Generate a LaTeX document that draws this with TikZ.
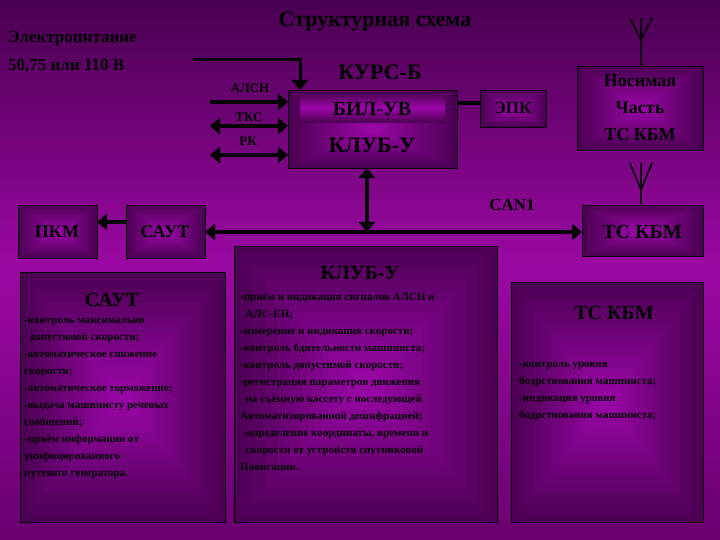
\documentclass[tikz,border=0pt]{standalone}
\usepackage{fontspec}
\setmainfont{Liberation Serif}
\usetikzlibrary{arrows.meta}
\colorlet{ink}{black}
\definecolor{bgtop}{HTML}{4A0052}
\definecolor{bgmid}{HTML}{9A08A2}
\definecolor{bgbot}{HTML}{6A0070}
\definecolor{boxin}{HTML}{9A06A6}
\definecolor{boxout}{HTML}{4C0054}
\newcommand{\gbox}[4]{% x1 y1 x2 y2
  \foreach \k in {0,...,19}{
    \pgfmathsetmacro{\p}{\k*5}
    \pgfmathsetmacro{\fx}{(#3-#1)/2*\k/21}
    \pgfmathsetmacro{\fy}{(#4-#2)/2*\k/21}
    \fill[boxin!\p!boxout] (#1+\fx,-#2-\fy) rectangle (#3-\fx,-#4+\fy);
  }
  \draw[black,line width=0.8pt] (#1,-#2) rectangle (#3,-#4);
}
\begin{document}
\begin{tikzpicture}[x=1pt,y=1pt,
  lbl/.style={text=black,inner sep=0pt},
  body/.style={lbl,font=\bfseries\fontsize{11}{17}\selectfont,align=left,anchor=north west},
  wire/.style={draw=black,line width=4pt},
  tip/.style={-{Triangle[length=10pt,width=16pt]}},
  dtip/.style={{Triangle[length=10pt,width=16pt]}-{Triangle[length=10pt,width=16pt]}}]
\useasboundingbox (0,0) rectangle (720,-540);
\foreach \k in {0,...,26}{
  \pgfmathsetmacro{\p}{\k*100/26}
  \fill[bgmid!\p!bgtop] (0,-\k*10) rectangle (720,-\k*10-10.5);
  \fill[bgmid!\p!bgbot] (0,-540+\k*10) rectangle (720,-530+\k*10+0.5);
}
\gbox{288}{90}{457}{168}
\foreach \k in {0,...,14}{
  \pgfmathsetmacro{\p}{\k*100/14}
  \fill[boxin!\p!boxout] (300,-93-\k) rectangle (445,-94.2-\k);
  \fill[boxin!\p!boxout] (300,-123+\k) rectangle (445,-121.8+\k);
}
\gbox{480}{90}{546}{127}
\gbox{577}{66}{703}{150}
\gbox{582}{205}{703}{256}
\gbox{18}{205}{97}{258}
\gbox{126}{205}{205}{258}
\gbox{20}{272}{225}{522}
\gbox{234}{246}{497}{522}
\gbox{511}{282}{703}{522}
% texts
\node[lbl,font=\bfseries\fontsize{22}{24}\selectfont] (title) at (375,-22) {Структурная схема};
\node[lbl,font=\bfseries\fontsize{17}{28}\selectfont,align=left,anchor=north west] (pow) at (8,-31) {Электропитание\\50,75 или 110 В};
\node[lbl,font=\bfseries\fontsize{22}{24}\selectfont] (kurs) at (380,-72) {КУРС-Б};
\node[lbl,font=\bfseries\fontsize{20}{22}\selectfont] (biluv) at (372,-109) {БИЛ-УВ};
\node[lbl,font=\bfseries\fontsize{22}{24}\selectfont] (klubu) at (372,-145) {КЛУБ-У};
\node[lbl,font=\bfseries\fontsize{17}{19}\selectfont] (epk) at (513,-108) {ЭПК};
\node[lbl,font=\bfseries\fontsize{18}{27}\selectfont,align=center] (nos) at (640,-108) {Носимая\\Часть\\ТС КБМ};
\node[lbl,font=\bfseries\fontsize{20}{22}\selectfont] (tskbm) at (642,-232) {ТС КБМ};
\node[lbl,font=\bfseries\fontsize{18}{20}\selectfont] (pkm) at (57,-232) {ПКМ};
\node[lbl,font=\bfseries\fontsize{18}{20}\selectfont] (saut) at (165,-232) {САУТ};
\node[lbl,font=\bfseries\fontsize{17}{19}\selectfont] (can) at (512,-205) {CAN1};
\node[lbl,font=\bfseries\fontsize{13}{15}\selectfont] (alsn) at (250,-88) {АЛСН};
\node[lbl,font=\bfseries\fontsize{13}{15}\selectfont] (tks) at (249,-117) {ТКС};
\node[lbl,font=\bfseries\fontsize{13}{15}\selectfont] (rk) at (248,-141) {РК};
\node[lbl,font=\bfseries\fontsize{20}{22}\selectfont] (saut2) at (112,-300) {САУТ};
\node[body] (sautt) at (24,-318) {-контроль максимально\\\ \ допустимой скорости;\\-автоматическое снижение\\скорости;\\-автоматическое торможение;\\-выдача машинисту речевых\\сообщений;\\-приём информации от\\унифицированного\\путевого генератора.};
\node[lbl,font=\bfseries\fontsize{20}{22}\selectfont] (klub2) at (360,-273) {КЛУБ-У};
\node[body] (klubt) at (240,-293) {-приём и индикация сигналов АЛСН и\\\ \ АЛС-ЕН;\\-измерение и индикация скорости;\\-контроль бдительности машиниста;\\-контроль допустимой скорости;\\-регистрация параметров движения\\\ \ на съёмную кассету с последующей\\Автоматизированной дешифрацией;\\\ -определение координаты, времени и\\\ \ скорости от устройств спутниковой\\Навигации.};
\node[lbl,font=\bfseries\fontsize{20}{22}\selectfont] (ts2) at (614,-313) {ТС КБМ};
\node[body] (tst) at (519,-362) {-контроль уровня\\бодрствования машиниста;\\-индикация уровня\\бодрствования машиниста;};
% wires
\coordinate (pw) at (193,-60);
\coordinate (bilL1) at (288,-102);\coordinate (in1) at (210,-102);
\coordinate (bilL2) at (288,-126);\coordinate (in2) at (210,-126);
\coordinate (bilL3) at (288,-155);\coordinate (in3) at (210,-155);
\draw[line width=3pt,black,tip] (pw) -| (300,-90);
\draw[wire,tip] (in1) -- (bilL1);
\draw[wire,dtip] (in2) -- (bilL2);
\draw[wire,dtip] (in3) -- (bilL3);
\draw[wire] (457,-103) -- (480,-103);
\draw[wire,dtip] (205,-232) -- (582,-232);
\draw[wire,dtip] (367,-168) -- (367,-232);
\draw[wire,tip] (126,-222) -- (97,-222);
\draw[black,line width=1.5pt] (641,-66) -- (641,-40) (641,-40) -- (630,-18) (641,-40) -- (652,-18) (641,-40) -- (641,-18);
\draw[black,line width=1.5pt] (641,-205) -- (641,-190) (641,-190) -- (630,-163) (641,-190) -- (652,-163) (641,-190) -- (641,-163);
\end{tikzpicture}
\end{document}
